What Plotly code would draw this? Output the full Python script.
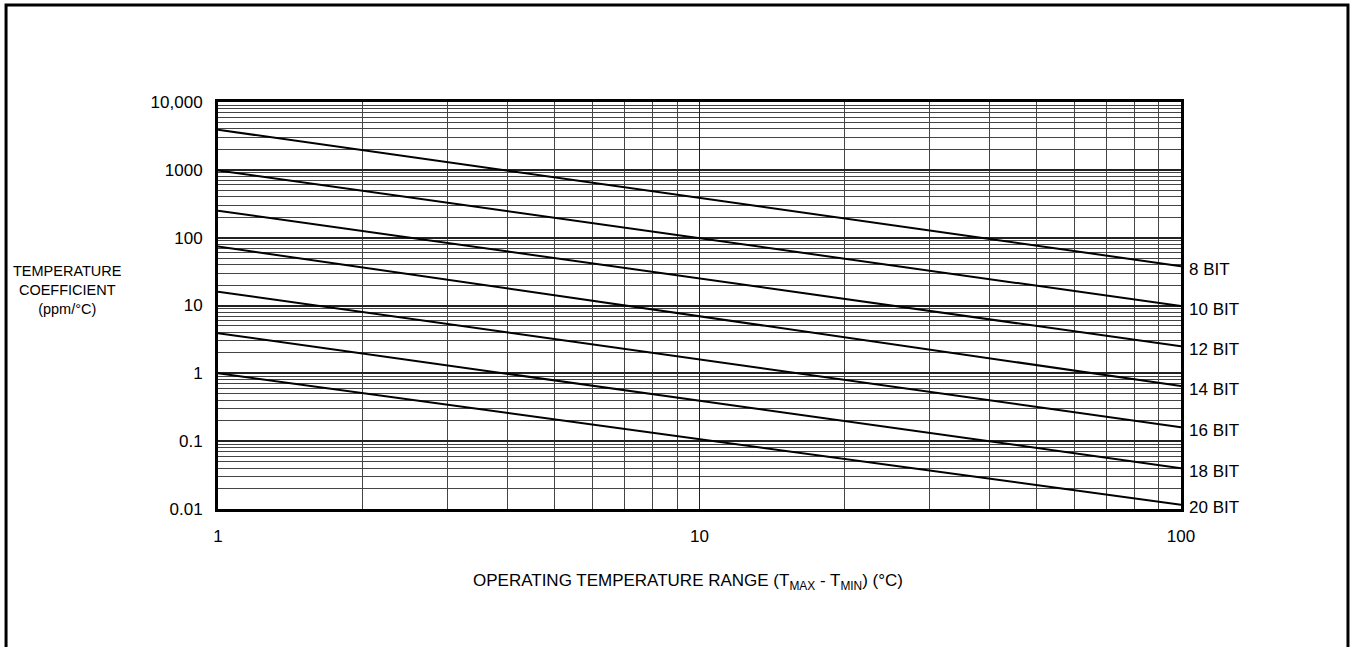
import math
import plotly.graph_objects as go

# Data
resolutions = ["8 BIT", "10 BIT", "12 BIT", "14 BIT", "16 BIT", "18 BIT", "20 BIT"]
temp_range = [1, 100]                      # operating temperature range (°C)
tc_at_1 = [3900, 980, 250, 74, 16, 3.9, 1.0]          # ppm/°C at 1 °C
tc_at_100 = [38, 9.8, 2.5, 0.65, 0.16, 0.040, 0.0115]  # ppm/°C at 100 °C

y_tickvals = [0.01, 0.1, 1, 10, 100, 1000, 10000]
y_ticktext = ["0.01", "0.1", "1", "10", "100", "1000", "10,000"]
x_tickvals = [1, 10, 100]
x_ticktext = ["1", "10", "100"]

FONT = "Liberation Sans, Arial, sans-serif"

fig = go.Figure()
for name, a, b in zip(resolutions, tc_at_1, tc_at_100):
    fig.add_trace(go.Scatter(x=temp_range, y=[a, b], mode="lines",
                             line=dict(color="black", width=2),
                             name=name, showlegend=False, hoverinfo="skip"))
    fig.add_annotation(x=1.0, xref="paper", y=math.log10(b), yref="y",
                       text=name, showarrow=False, xanchor="left", yanchor="middle",
                       xshift=6, yshift=-3, font=dict(family=FONT, size=17, color="black"))

fig.update_xaxes(type="log", range=[0, 2], tickvals=x_tickvals, ticktext=x_ticktext,
                 showline=True, linecolor="black", linewidth=3, mirror=True,
                 showgrid=True, gridcolor="#222", gridwidth=1.2,
                 minor=dict(dtick="D1", showgrid=True, gridcolor="#444", gridwidth=1, ticks=""),
                 ticks="", ticklabelstandoff=10, zeroline=False,
                 tickfont=dict(family=FONT, size=17, color="black"))
fig.update_yaxes(type="log", range=[-2, 4], tickvals=y_tickvals, ticktext=y_ticktext,
                 showline=True, linecolor="black", linewidth=3, mirror=True,
                 showgrid=True, gridcolor="#222", gridwidth=1.5,
                 minor=dict(dtick="D1", showgrid=True, gridcolor="#444", gridwidth=1, ticks=""),
                 ticks="", ticklabelstandoff=9, zeroline=False,
                 tickfont=dict(family=FONT, size=17, color="black"))

fig.add_annotation(x=-0.156, xref="paper", y=0.538, yref="paper",
                   text="TEMPERATURE<br>COEFFICIENT<br>(ppm/°C)", showarrow=False,
                   align="center", xanchor="center", yanchor="middle",
                   font=dict(family=FONT, size=14.5, color="black"))
fig.add_annotation(x=1, xref="x", y=-0.179, yref="paper", xshift=-12,
                   text="OPERATING TEMPERATURE RANGE (T<sub>MAX</sub> - T<sub>MIN</sub>) (°C)",
                   showarrow=False, xanchor="center", yanchor="middle",
                   font=dict(family=FONT, size=17, color="black"))

fig.add_shape(type="rect", xref="paper", yref="paper",
              x0=-0.2201, x1=1.1734, y0=-0.371, y1=1.2383,
              line=dict(color="black", width=3), fillcolor="rgba(0,0,0,0)", layer="above")

fig.update_layout(width=1351, height=647, margin=dict(l=218, r=170, t=102, b=138),
                  paper_bgcolor="white", plot_bgcolor="white")

fig.write_html("out.html", config={"displayModeBar": False},
               post_script="document.body.style.margin='0';document.body.style.overflow='hidden';")
